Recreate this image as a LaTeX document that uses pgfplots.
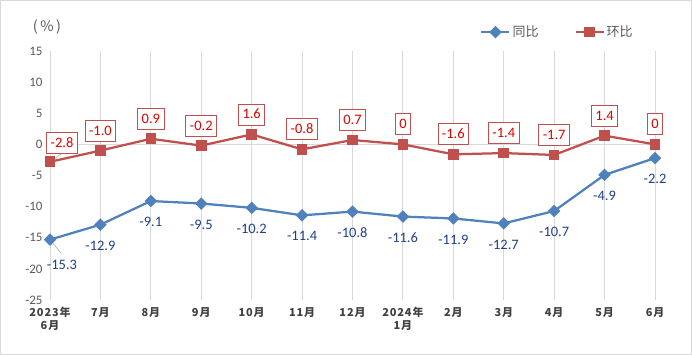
\documentclass[border=0pt]{standalone}
\usepackage{pgfplots}
\pgfplotsset{compat=1.18}
\usepackage{pgfplotstable}
\usepackage{fontspec}
\setmainfont{Carlito}
\newfontfamily\cjk{Noto Sans CJK SC}
\definecolor{blueline}{HTML}{4F81BD}
\definecolor{redline}{HTML}{C0504D}
\definecolor{bluelabel}{HTML}{1F3F8C}
\definecolor{redlabel}{HTML}{E00000}
\definecolor{gridc}{HTML}{D9D9D9}
\definecolor{tickc}{HTML}{595959}
\definecolor{xtickc}{HTML}{404040}

\pgfplotstableread{
x y lab dx dy
0 -15.3 -15.3 12 -25
1 -12.9 -12.9 0 -21
2 -9.1 -9.1 0 -21
3 -9.5 -9.5 0 -21
4 -10.2 -10.2 0 -21
5 -11.4 -11.4 0 -21
6 -10.8 -10.8 0 -21
7 -11.6 -11.6 0 -21
8 -11.9 -11.9 0 -21
9 -12.7 -12.7 0 -21
10 -10.7 -10.7 0 -21
11 -4.9 -4.9 0 -21
12 -2.2 -2.2 0 -21
}\tongbi

\pgfplotstableread{
x y lab dx dy
0 -2.8 -2.8 12 8
1 -1.0 -1.0 0 9
2 0.9 0.9 0 9
3 -0.2 -0.2 0 9
4 1.6 1.6 0 9
5 -0.8 -0.8 0 9
6 0.7 0.7 0 9
7 0 0 0 9
8 -1.6 -1.6 0 9
9 -1.4 -1.4 0 9
10 -1.7 -1.7 0 9
11 1.4 1.4 0 9
12 0 0 0 9
}\huanbi

\begin{document}
\begin{tikzpicture}
\begin{axis}[
  scale only axis,
  width=605bp, height=249bp,
  xmin=0, xmax=12, ymin=-25, ymax=15,
  xtick={0,...,12},
  xticklabels={{2023年\\6月},{7月},{8月},{9月},{10月},{11月},{12月},{2024年\\1月},{2月},{3月},{4月},{5月},{6月}},
  ytick={-25,-20,...,15},
  extra y ticks={0},
  extra y tick labels={},
  extra y tick style={ymajorgrids=true, major grid style={gridc, line width=0.9bp}},
  xmajorgrids=true,
  major grid style={gridc, line width=0.9bp},
  major tick length=0pt,
  axis line style={draw=none},
  x tick label style={font=\cjk\bfseries\fontsize{11}{13}\selectfont\addfontfeature{LetterSpace=8}, text=xtickc, align=center, anchor=north, yshift=-4bp},
  y tick label style={font=\fontsize{13}{15}\selectfont, text=tickc, xshift=-4bp},
  /pgf/number format/assume math mode=true,
  clip=false,
  legend columns=2,
  legend style={draw=none, fill=none, at={(0.706,1.076)}, anchor=west,
    font=\cjk\fontsize{13}{15}\selectfont, text=tickc,
    /tikz/every even column/.append style={column sep=34bp}},
  legend image code/.code={\draw[#1, mark repeat=2, mark phase=2] plot coordinates {(0bp,0bp) (14bp,0bp) (28bp,0bp)};},
  point meta=explicit symbolic,
  nodes near coords,
]
\addplot[blueline, line width=2.25bp, mark=square*, mark size=3.3bp,
  mark options={rotate=45, solid, fill=blueline, draw=blueline},
  visualization depends on={\thisrow{dx}\as\dx},
  visualization depends on={\thisrow{dy}\as\dy},
  every node near coord/.append style={anchor=center, xshift=\dx bp, yshift=\dy bp,
    font=\fontsize{14.5}{16}\selectfont, text=bluelabel, inner sep=0pt}
] table[x=x, y=y, meta=lab] {\tongbi};
\addlegendentry{同比}
\addplot[redline, line width=2.25bp, mark=square*, mark size=4.2bp,
  mark options={solid, fill=redline, draw=redline},
  visualization depends on={\thisrow{dx}\as\dx},
  visualization depends on={\thisrow{dy}\as\dy},
  every node near coord/.append style={anchor=south, xshift=\dx bp, yshift=\dy bp,
    font=\fontsize{14.5}{16}\selectfont, text=redlabel, draw=redline, line width=0.9bp, fill=white,
    inner xsep=4bp, inner ysep=5bp, text height=10bp, text depth=1bp}
] table[x=x, y=y, meta=lab] {\huanbi};
\addlegendentry{环比}
\draw[gray!60, line width=0.6bp] (axis cs:0,-2.8) -- (axis cs:0.23,-1.5);
\draw[gray!60, line width=0.6bp] (axis cs:0,-15.3) -- (axis cs:0.22,-17.5);
\end{axis}
\node[font=\cjk\fontsize{14.5}{16}\selectfont, text=tickc, anchor=center] at ([xshift=-3bp, yshift=273bp]current axis.south west) {(\kern2.5bp\%\kern2.5bp)};
\draw[gridc, line width=1bp] ([xshift=-49.5bp, yshift=-54.5bp]current axis.south west) rectangle ([xshift=641.5bp, yshift=299.5bp]current axis.south west);
\end{tikzpicture}
\end{document}
